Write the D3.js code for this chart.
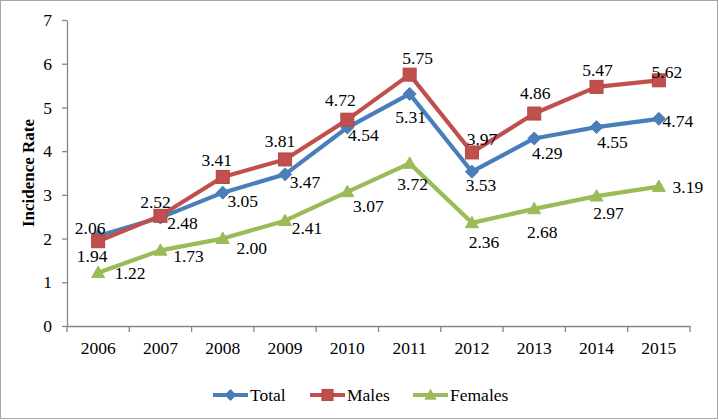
<!DOCTYPE html>
<html><head><meta charset="utf-8">
<script src="https://cdn.jsdelivr.net/npm/d3@7"></script>
<style>body{margin:0;background:#fff}svg{display:block}</style>
</head><body>
<svg id="c" width="719" height="420"></svg>
<script>
const years = ["2006","2007","2008","2009","2010","2011","2012","2013","2014","2015"];
const totalVals = [2.06,2.48,3.05,3.47,4.54,5.31,3.53,4.29,4.55,4.74];
const maleVals = [1.94,2.52,3.41,3.81,4.72,5.75,3.97,4.86,5.47,5.62];
const femaleVals = [1.22,1.73,2.00,2.41,3.07,3.72,2.36,2.68,2.97,3.19];
const yTicks = [0,1,2,3,4,5,6,7];
const seriesNames = ["Total","Males","Females"];
// label offsets (pixels from point, label centre)
const totalLbl = [[-8,-8],[22,5],[20,8],[20,8],[16,7],[1,23],[9,13],[13,14],[16,15],[19,2]];
const maleLbl = [[-6,15],[-5,-14],[-6,-17],[-5,-19],[-7,-20],[8,-17],[10,-14],[1,-21],[1,-17],[8,-8]];
const femaleLbl = [[32,0],[28,6],[29,9],[22,7],[21,14],[3,20],[12,19],[8,23],[12,17],[29,0]];

const colors = {Total:"#4A7EBB", Males:"#C0504D", Females:"#9BBB59"};
const strokes = {Total:"#4A7EBB", Males:"#B24743", Females:"#9BBB59"};
const font = "'Liberation Serif'";

const svg = d3.select("#c");
svg.append("rect").attr("x",0.5).attr("y",0.5).attr("width",717).attr("height",418)
  .attr("fill","#fff").attr("stroke","#a6a6a6");

const x = d3.scaleBand().domain(years).range([67,690]).padding(0);
const y = d3.scaleLinear().domain([0,7]).range([326,20]);
const cx = d => x(d) + x.bandwidth()/2;
const axisColor = "#868686";

function styleText(sel, size, weight) {
  sel.style("font-family", font).style("font-size", size + "px");
  if (weight) sel.style("font-weight", weight);
  sel.attr("fill","#000");
}

// Y axis
const ya = svg.append("g").attr("transform","translate(67,0)")
  .call(d3.axisLeft(y).tickValues(yTicks).tickFormat(d3.format("d")).tickSize(5).tickSizeOuter(0).tickPadding(10));
ya.attr("font-family", null).attr("font-size", null);
ya.selectAll("path,line").attr("stroke",axisColor).attr("stroke-width",1.3);
styleText(ya.selectAll("text"), 17.5);

// X axis
const xa = svg.append("g").attr("transform","translate(0,326)")
  .call(d3.axisBottom(x).tickSize(0).tickSizeOuter(0).tickPadding(16));
xa.attr("font-family", null).attr("font-size", null);
xa.selectAll("path").attr("stroke",axisColor).attr("stroke-width",1.3);
styleText(xa.selectAll("text"), 17.5);
const bounds = years.map(d => x(d)).concat([x(years[years.length-1]) + x.bandwidth()]);
svg.append("g").selectAll("line").data(bounds).join("line")
  .attr("x1",d=>d).attr("x2",d=>d).attr("y1",326).attr("y2",332)
  .attr("stroke",axisColor).attr("stroke-width",1.3);

// Y title
const yt = svg.append("text").attr("transform","translate(34,173) rotate(-90)")
  .attr("text-anchor","middle").text("Incidence Rate");
styleText(yt, 17, "bold");

function marker(g, name, px, py, s) {
  s = s || 1;
  const r = 6.5*s;
  if (name === "Total") {
    g.append("path").attr("d",`M${px},${py-r}L${px+r},${py}L${px},${py+r}L${px-r},${py}Z`)
      .attr("fill",colors[name]).attr("stroke",strokes[name]).attr("stroke-width",1);
  } else if (name === "Males") {
    g.append("rect").attr("x",px-r).attr("y",py-r).attr("width",2*r).attr("height",2*r)
      .attr("fill",colors[name]).attr("stroke",strokes[name]).attr("stroke-width",1);
  } else {
    g.append("path").attr("d",`M${px},${py-r}L${px+r},${py+r*0.75}L${px-r},${py+r*0.75}Z`)
      .attr("fill",colors[name]).attr("stroke",strokes[name]).attr("stroke-width",1);
  }
}

const series = [
  {name:"Total", vals: totalVals, lbl: totalLbl},
  {name:"Males", vals: maleVals, lbl: maleLbl},
  {name:"Females", vals: femaleVals, lbl: femaleLbl}
];
const line = d3.line().x(d=>cx(d.year)).y(d=>y(d.v));
[series[2], series[0], series[1]].forEach(s => {
  const pts = years.map((yr,i)=>({year:yr, v:s.vals[i]}));
  const g = svg.append("g");
  g.append("path").attr("d", line(pts)).attr("fill","none")
    .attr("stroke",colors[s.name]).attr("stroke-width",4.2).attr("stroke-linejoin","round");
  pts.forEach(p => marker(g, s.name, cx(p.year), y(p.v)));
});
series.forEach(s => {
  const t = svg.append("g").selectAll("text").data(years).join("text")
    .attr("x",(d,i)=>cx(d)+s.lbl[i][0]).attr("y",(d,i)=>y(s.vals[i])+s.lbl[i][1])
    .attr("dy","0.35em").attr("text-anchor","middle")
    .text((d,i)=>d3.format(".2f")(s.vals[i]));
  styleText(t, 17.5);
});

// Legend
const legX = [213, 310, 413];
series.forEach((s,i) => {
  const g = svg.append("g");
  g.append("line").attr("x1",legX[i]).attr("x2",legX[i]+35).attr("y1",395).attr("y2",395)
    .attr("stroke",colors[s.name]).attr("stroke-width",4.2);
  marker(g, s.name, legX[i]+17.5, 395, 0.85);
  const t = g.append("text").attr("x",legX[i]+37).attr("y",395).attr("dy","0.35em").text(s.name);
  styleText(t, 17.5);
});
</script>
</body></html>
